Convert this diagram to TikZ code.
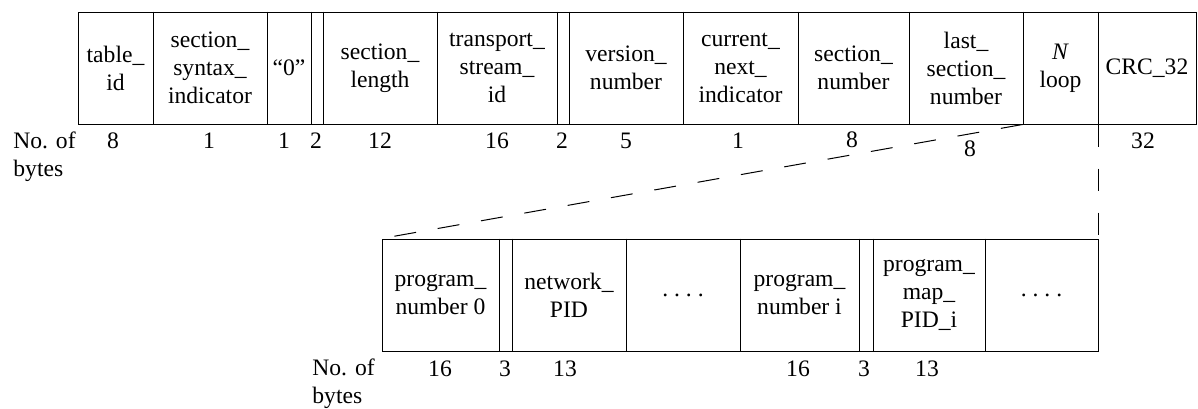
\documentclass[tikz,border=0pt]{standalone}
\usepackage{fontspec}
\setmainfont{Liberation Serif}
\newcommand\fieldnode[5]{%
  \node[field, minimum width={(#3-#2)*0.5pt}] (#1) at ({(#2+#3)/2},#4) {#5};}
\begin{document}
\begin{tikzpicture}[x=0.5pt,y=-0.5pt,
  font=\fontsize{11.8}{14}\selectfont,
  field/.style={draw, line width=0.5pt, minimum height=56pt, inner sep=0pt, align=center},
  divider/.style={line width=0.9pt},
  num/.style={inner sep=0pt, anchor=base},
  lab/.style={inner sep=0pt, anchor=north west, align=left},
  link/.style={dash pattern=on 11pt off 11pt, line width=0.5pt}]
\useasboundingbox (0,0) rectangle (1198,408);
% top row
\fieldnode{tid}{78}{153}{68}{table\_\\id}
\fieldnode{ssi}{153}{267}{68}{section\_\\syntax\_\\indicator}
\fieldnode{zero}{267}{311}{68}{“0”}
\fieldnode{r1}{311}{323}{68}{}
\fieldnode{slen}{323}{437}{68}{section\_\\length}
\fieldnode{tsid}{437}{557}{68}{transport\_\\stream\_\\id}
\fieldnode{r2}{557}{569}{68}{}
\fieldnode{vnum}{569}{683}{68}{version\_\\number}
\fieldnode{cni}{683}{798}{68}{current\_\\next\_\\indicator}
\fieldnode{snum}{798}{909}{68}{section\_\\number}
\fieldnode{lsn}{909}{1023}{68}{last\_\\section\_\\number}
\fieldnode{nloop}{1023}{1098}{68}{\textit{N}\\loop}
\fieldnode{crc}{1098}{1196}{68}{CRC\_32}
\foreach \f in {tid,ssi,zero,r1,slen,tsid,r2,vnum,cni,snum,lsn,nloop}
  \draw[divider] (\f.north east) -- (\f.south east);
% top numbers
\node[lab] (nob1) at (13,131) {No. of\\bytes};
\node[num] (t1) at (113,148) {8};
\node[num] (t2) at (209,148) {1};
\node[num] (t3) at (284,148) {1};
\node[num] (t4) at (316,148) {2};
\node[num] (t5) at (380,148) {12};
\node[num] (t6) at (497,148) {16};
\node[num] (t7) at (562,148) {2};
\node[num] (t8) at (626,148) {5};
\node[num] (t9) at (738,148) {1};
\node[num] (t10) at (852,147) {8};
\node[num] (t11) at (970,156) {8};
\node[num] (t12) at (1143,148) {32};
% bottom row
\fieldnode{pn0}{382}{499}{295}{program\_\\number 0}
\fieldnode{r3}{499}{512}{295}{}
\fieldnode{npid}{512}{626}{295}{network\_\\PID}
\fieldnode{dots1}{626}{740}{295}{.\ .\ .\ .}
\fieldnode{pni}{740}{859}{295}{program\_\\number i}
\fieldnode{r4}{859}{873}{295}{}
\fieldnode{pmp}{873}{985}{295}{program\_\\map\_\\PID\_i}
\fieldnode{dots2}{985}{1098}{295}{.\ .\ .\ .}
\foreach \f in {pn0,r3,npid,dots1,pni,r4,pmp}
  \draw[divider] (\f.north east) -- (\f.south east);
% bottom numbers
\node[lab] (nob2) at (312,358) {No. of\\bytes};
\node[num] (b1) at (440,376) {16};
\node[num] (b2) at (505,376) {3};
\node[num] (b3) at (565,376) {13};
\node[num] (b4) at (798,376) {16};
\node[num] (b5) at (864,376) {3};
\node[num] (b6) at (927,376) {13};
% expansion connectors
\draw[link] (nloop.south west) -- (pn0.north west);
\draw[link] (nloop.south east) -- (dots2.north east);
\end{tikzpicture}
\end{document}
